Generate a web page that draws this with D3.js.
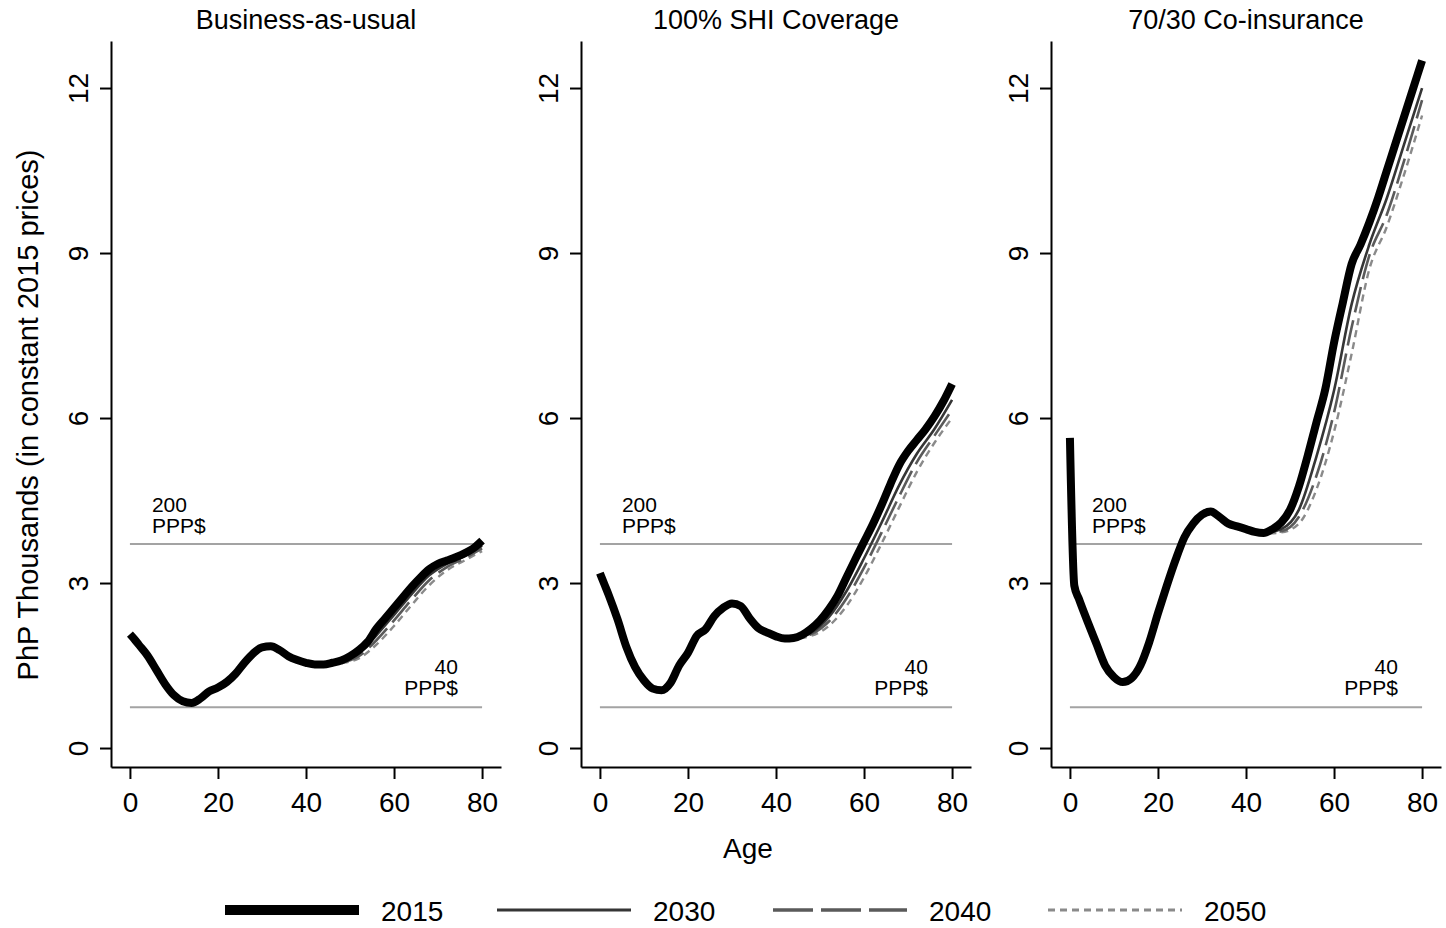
<!DOCTYPE html>
<html>
<head>
<meta charset="utf-8">
<script src="https://cdn.jsdelivr.net/npm/d3@7"></script>
<style>
  body { margin: 0; background: #fff; }
  svg { display: block; font-family: "Liberation Sans", Arial, sans-serif; }
</style>
</head>
<body>
<svg id="chart" width="1446" height="928"></svg>
<script>
// panels, series and ticks
const panelTitles = ['Business-as-usual', '100% SHI Coverage', '70/30 Co-insurance'];
const years = ['2015', '2030', '2040', '2050'];
const xTicks = [0, 20, 40, 60, 80];
const yTicks = [0, 3, 6, 9, 12];

// ages for the 2015 curve, and for the later years (they match 2015 below ~age 40)
const ages = [0, 1, 2, 4, 6, 8, 10, 12, 14, 16, 18, 20, 22, 24, 26, 28, 30, 32, 34, 36, 38,
  40, 42, 44, 46, 48, 50, 52, 54, 56, 58, 60, 62, 64, 66, 68, 70, 72, 74, 76, 78, 80];
const agesLate = [40, 44, 48, 52, 56, 60, 64, 68, 72, 76, 80];

// Business-as-usual
const bau2015 = [2.07, 1.98, 1.88, 1.68, 1.42, 1.16, 0.96, 0.85, 0.82, 0.9, 1.03, 1.1, 1.2, 1.35, 1.55, 1.72, 1.83, 1.85, 1.78, 1.67, 1.6,
  1.55, 1.52, 1.52, 1.55, 1.59, 1.67, 1.78, 1.93, 2.17, 2.36, 2.55, 2.74, 2.93, 3.1, 3.25, 3.35, 3.41, 3.47, 3.54, 3.63, 3.77];
const bau2030 = [1.55, 1.52, 1.57, 1.72, 2.05, 2.42, 2.8, 3.14, 3.35, 3.49, 3.68];
const bau2040 = [1.55, 1.52, 1.55, 1.67, 1.96, 2.32, 2.7, 3.05, 3.29, 3.45, 3.63];
const bau2050 = [1.55, 1.51, 1.54, 1.63, 1.88, 2.22, 2.6, 2.96, 3.23, 3.41, 3.58];

// 100% SHI coverage
const shi2015 = [3.18, 2.98, 2.78, 2.34, 1.84, 1.47, 1.23, 1.08, 1.05, 1.18, 1.5, 1.73, 2.04, 2.16, 2.4, 2.55, 2.63, 2.58, 2.36, 2.18, 2.1,
  2.03, 1.99, 2.0, 2.06, 2.17, 2.32, 2.52, 2.77, 3.1, 3.43, 3.75, 4.07, 4.42, 4.8, 5.15, 5.4, 5.6, 5.8, 6.03, 6.3, 6.62];
const shi2030 = [2.03, 2.0, 2.1, 2.38, 2.85, 3.45, 4.1, 4.78, 5.35, 5.8, 6.33];
const shi2040 = [2.03, 1.99, 2.07, 2.3, 2.72, 3.28, 3.92, 4.58, 5.2, 5.68, 6.15];
const shi2050 = [2.03, 1.99, 2.04, 2.22, 2.58, 3.1, 3.72, 4.38, 5.02, 5.55, 6.0];

// 70/30 co-insurance
const coi2015 = [5.64, 2.95, 2.72, 2.3, 1.9, 1.5, 1.29, 1.2, 1.27, 1.5, 1.92, 2.45, 2.95, 3.42, 3.83, 4.08, 4.24, 4.3, 4.2, 4.08, 4.03,
  3.98, 3.93, 3.91, 3.98, 4.1, 4.33, 4.75, 5.31, 5.92, 6.52, 7.37, 8.1, 8.8, 9.15, 9.55, 10.0, 10.5, 11.0, 11.5, 12.0, 12.5];
const coi2030 = [3.98, 3.91, 3.98, 4.33, 5.3, 6.5, 8.07, 9.15, 10.0, 11.0, 12.0];
const coi2040 = [3.98, 3.91, 3.94, 4.2, 4.95, 6.1, 7.65, 8.95, 9.7, 10.7, 11.78];
const coi2050 = [3.98, 3.9, 3.92, 4.08, 4.7, 5.75, 7.17, 8.7, 9.48, 10.45, 11.5];

// reference lines: 200 and 40 PPP$ in PhP thousands
const refValues = [3.71, 0.742];
const refLabels = [['200', 'PPP$'], ['40', 'PPP$']];

const panelSeries = [
  [bau2015, bau2030, bau2040, bau2050],
  [shi2015, shi2030, shi2040, shi2050],
  [coi2015, coi2030, coi2040, coi2050]
];

const styles = {
  '2015': {stroke: '#000', width: 8, dash: null, lw: 10},
  '2030': {stroke: '#353535', width: 2.6, dash: null, lw: 3},
  '2040': {stroke: '#5a5a5a', width: 2.6, dash: '26,8', lw: 3.5},
  '2050': {stroke: '#8a8a8a', width: 2.4, dash: '7,5', lw: 3}
};

const svg = d3.select('#chart');
const panelStep = 470;
const fontSize = 28;

const y = d3.scaleLinear().domain([-0.345, 12.855]).range([767, 41]);

panelSeries.forEach((series, i) => {
  const off = i * panelStep;
  const x = d3.scaleLinear().domain([-4.3, 84.3]).range([111 + off, 501 + off]);

  const g = svg.append('g');

  // title
  g.append('text')
    .attr('x', x(40))
    .attr('y', 29)
    .attr('text-anchor', 'middle')
    .style('font-size', '27px')
    .text(panelTitles[i]);

  // reference lines
  g.selectAll('.ref')
    .data(refValues)
    .join('line')
    .attr('x1', x(0)).attr('x2', x(80))
    .attr('y1', d => y(d)).attr('y2', d => y(d))
    .attr('stroke', '#a3a3a3')
    .attr('stroke-width', 2);

  const lab200 = g.append('text')
    .attr('x', x(5))
    .attr('y', y(refValues[0]) - 32)
    .style('font-size', '21px');
  lab200.append('tspan').text(refLabels[0][0]);
  lab200.append('tspan').attr('x', x(5)).attr('dy', 21).text(refLabels[0][1]);

  const lab40 = g.append('text')
    .attr('x', x(74.5))
    .attr('y', y(refValues[1]) - 33)
    .attr('text-anchor', 'end')
    .style('font-size', '21px');
  lab40.append('tspan').text(refLabels[1][0]);
  lab40.append('tspan').attr('x', x(74.5)).attr('dy', 21).text(refLabels[1][1]);

  // curves: later years under, 2015 on top
  const line = d3.line()
    .x(d => x(d[0]))
    .y(d => y(d[1]))
    .curve(d3.curveMonotoneX);

  [3, 2, 1, 0].forEach(k => {
    const yr = years[k];
    const s = styles[yr];
    const a = k === 0 ? ages : agesLate;
    g.append('path')
      .datum(a.map((age, j) => [age, series[k][j]]))
      .attr('d', line)
      .attr('fill', 'none')
      .attr('stroke', s.stroke)
      .attr('stroke-width', s.width)
      .attr('stroke-dasharray', s.dash)
      .attr('stroke-linejoin', 'round');
  });

  // axes
  const yAxis = d3.axisLeft(y)
    .tickValues(yTicks)
    .tickSize(11)
    .tickSizeOuter(0)
    .tickFormat(d3.format('d'));
  const yg = g.append('g')
    .attr('transform', `translate(${x(-4.3)},0)`)
    .call(yAxis);
  yg.selectAll('text')
    .attr('x', 0)
    .attr('y', -23)
    .attr('dy', null)
    .attr('transform', 'rotate(-90)')
    .attr('text-anchor', 'middle')
    .style('font-size', `${fontSize}px`)
    .style('font-family', '"Liberation Sans", Arial, sans-serif')
    .attr('fill', '#000');

  const xAxis = d3.axisBottom(x)
    .tickValues(xTicks)
    .tickSize(12)
    .tickPadding(13)
    .tickSizeOuter(0);
  const xg = g.append('g')
    .attr('transform', `translate(0,${y(-0.345)})`)
    .call(xAxis);
  xg.selectAll('text')
    .style('font-size', `${fontSize}px`)
    .style('font-family', '"Liberation Sans", Arial, sans-serif')
    .attr('fill', '#000');

  [yg, xg].forEach(ax => {
    ax.select('.domain').attr('stroke', '#000').attr('stroke-width', 2);
    ax.selectAll('.tick line').attr('stroke', '#000').attr('stroke-width', 2);
  });
});

// axis titles
svg.append('text')
  .attr('transform', 'translate(38,415) rotate(-90)')
  .attr('text-anchor', 'middle')
  .style('font-size', '29px')
  .text('PhP Thousands (in constant 2015 prices)');

svg.append('text')
  .attr('x', 748)
  .attr('y', 858)
  .attr('text-anchor', 'middle')
  .style('font-size', `${fontSize}px`)
  .text('Age');

// legend
const legendX = [225, 497, 773, 1048];
const legend = svg.append('g')
  .selectAll('g')
  .data(years)
  .join('g')
  .attr('transform', (d, i) => `translate(${legendX[i]},910)`);

legend.append('line')
  .attr('x1', 0).attr('x2', 134)
  .attr('stroke', d => styles[d].stroke)
  .attr('stroke-width', d => styles[d].lw)
  .attr('stroke-dasharray', d => d === '2040' ? '40,8' : styles[d].dash);

legend.append('text')
  .attr('x', 156)
  .attr('y', 11)
  .style('font-size', `${fontSize}px`)
  .text(d => d);
</script>
</body>
</html>
